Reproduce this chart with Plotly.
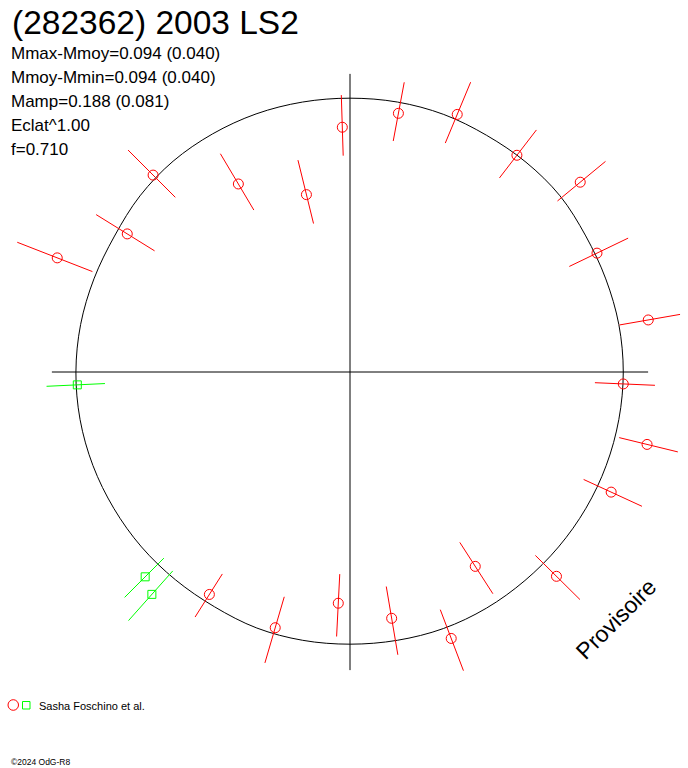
import numpy as np
import plotly.graph_objects as go

# ---- data (phase angle in degrees, clockwise from top; radius relative to mean; error in mag) ----
red_phase = [315.0, 301.8, 291.3, 329.3, 346.2, 358.2, 10.6, 22.6, 37.6, 50.5, 64.3,
             80.1, 92.5, 103.7, 114.7, 134.7, 147.2, 159.2, 170.4, 182.9, 196.3, 212.3]
red_radius = [1.020, 0.960, 1.151, 0.801, 0.669, 0.897, 0.964, 1.022, 1.002, 1.093, 1.004,
              1.109, 1.002, 1.120, 1.053, 1.064, 0.847, 1.044, 0.915, 0.848, 0.976, 0.964]
red_err = [0.130, 0.142, 0.139, 0.162, 0.193, 0.134, 0.123, 0.128, 0.120, 0.113, 0.129,
           0.110, 0.119, 0.107, 0.121, 0.117, 0.143, 0.124, 0.150, 0.146, 0.140, 0.105]

green_phase = [225.0, 221.7, 267.3]
green_radius = [1.061, 1.091, 1.000]
green_err = [0.104, 0.121, 0.116]

fit_phase = [0, 10, 20, 30, 40, 50, 60, 70, 80, 90, 100, 110, 120, 130, 140, 150, 160, 170,
             180, 190, 200, 210, 220, 230, 240, 250, 260, 270, 280, 290, 300, 310, 320, 330, 340, 350]
fit_radius = [1.003, 1.004, 1.004, 1.001, 1.003, 1.004, 0.997, 0.997, 1.000, 1.001, 1.000, 0.999,
              0.998, 0.997, 0.997, 0.999, 1.000, 0.998, 0.997, 0.998, 0.998, 0.993, 0.994, 0.997,
              0.999, 1.002, 1.004, 1.004, 1.002, 0.998, 0.996, 1.004, 1.008, 1.007, 1.006, 1.004]

title = "(282362) 2003 LS2"
stats = ["Mmax-Mmoy=0.094 (0.040)", "Mmoy-Mmin=0.094 (0.040)", "Mamp=0.188 (0.081)",
         "Eclat^1.00", "f=0.710"]
observer = "Sasha Foschino et al."
credit = "©2024 OdG-R8"
watermark = "Provisoire"

W, H = 688, 768
PX = 273.0          # pixels per radius unit
CX, CY = 350, 372   # centre in pixels
AXLEN = 1.092

FONT = "Liberation Sans, Arial, sans-serif"


def to_xy(phase, radius):
    t = np.radians(np.asarray(phase, float))
    r = np.asarray(radius, float)
    return r * np.sin(t), r * np.cos(t)


def err_segments(phase, radius, err):
    xs, ys = [], []
    for p, r, e in zip(phase, radius, err):
        x0, y0 = to_xy([p], [r * 10 ** (-0.4 * e)])
        x1, y1 = to_xy([p], [r * 10 ** (0.4 * e)])
        xs += [x0[0], x1[0], None]
        ys += [y0[0], y1[0], None]
    return xs, ys


fig = go.Figure()

# axes cross
fig.add_shape(type="line", x0=-AXLEN, x1=AXLEN, y0=0, y1=0, line=dict(color="black", width=1))
fig.add_shape(type="line", x0=0, x1=0, y0=-AXLEN, y1=AXLEN, line=dict(color="black", width=1))

# fitted curve (closed)
fx, fy = to_xy(fit_phase + [fit_phase[0]], fit_radius + [fit_radius[0]])
fig.add_trace(go.Scatter(x=fx, y=fy, mode="lines",
                         line=dict(color="black", width=1, shape="spline", smoothing=1.0),
                         hoverinfo="skip", showlegend=False))

# error bars
ex, ey = err_segments(red_phase, red_radius, red_err)
fig.add_trace(go.Scatter(x=ex, y=ey, mode="lines", line=dict(color="#ff0000", width=1), showlegend=False))
gx, gy = err_segments(green_phase, green_radius, green_err)
fig.add_trace(go.Scatter(x=gx, y=gy, mode="lines", line=dict(color="#00ff00", width=1), showlegend=False))

# points
rx, ry = to_xy(red_phase, red_radius)
fig.add_trace(go.Scatter(x=rx, y=ry, mode="markers",
                         marker=dict(symbol="circle-open", size=10, color="#ff0000", line=dict(width=1)),
                         showlegend=False))
gx2, gy2 = to_xy(green_phase, green_radius)
fig.add_trace(go.Scatter(x=gx2, y=gy2, mode="markers",
                         marker=dict(symbol="square-open", size=8, color="#00ff00", line=dict(width=1)),
                         showlegend=False))


def py(p):
    return 1 - p / H


def pxp(p):
    return p / W


annotations = [
    dict(text=title, x=pxp(10), y=py(23), xanchor="left", yanchor="middle",
         font=dict(family=FONT, size=33.5, color="black")),
]
for i, s in enumerate(stats):
    annotations.append(dict(text=s, x=pxp(9), y=py(53.5 + 24 * i), xanchor="left", yanchor="middle",
                            font=dict(family=FONT, size=17, color="black")))
annotations.append(dict(text=observer, x=pxp(37), y=py(706), xanchor="left", yanchor="middle",
                        font=dict(family=FONT, size=11, color="black")))
annotations.append(dict(text=credit, x=pxp(9), y=py(762), xanchor="left", yanchor="middle",
                        font=dict(family=FONT, size=8.5, color="black")))
annotations.append(dict(text=watermark, x=pxp(616), y=py(619), xanchor="center", yanchor="middle",
                        textangle=-45, font=dict(family=FONT, size=23, color="black")))
for a in annotations:
    a.update(xref="paper", yref="paper", showarrow=False)

shapes_legend = [
    dict(type="circle", xref="paper", yref="paper", x0=pxp(8), x1=pxp(18.5), y0=py(710.3), y1=py(699.7),
         line=dict(color="#ff0000", width=1)),
    dict(type="rect", xref="paper", yref="paper", x0=pxp(22.5), x1=pxp(30), y0=py(709), y1=py(701.5),
         line=dict(color="#00ff00", width=1)),
]
for s in shapes_legend:
    fig.add_shape(**s)

fig.update_layout(
    width=W, height=H,
    margin=dict(l=0, r=0, t=0, b=0),
    paper_bgcolor="white", plot_bgcolor="white",
    xaxis=dict(range=[-CX / PX, (W - CX) / PX], visible=False, fixedrange=True),
    yaxis=dict(range=[-(H - CY) / PX, CY / PX], visible=False, fixedrange=True),
    annotations=annotations,
    showlegend=False,
)

fig.write_html("out.html", config={"displayModeBar": False},
               post_script="document.body.style.margin='0';document.body.style.overflow='hidden';")
